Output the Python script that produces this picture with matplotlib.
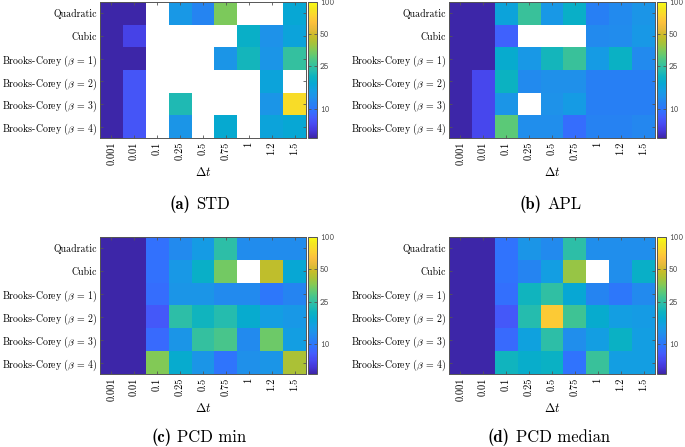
import matplotlib
matplotlib.use("Agg")
import matplotlib.pyplot as plt
import numpy as np
from matplotlib.colors import LinearSegmentedColormap, LogNorm

plt.rcParams['mathtext.fontset'] = 'cm'
plt.rcParams['axes.unicode_minus'] = False

nan = np.nan
dt_labels = ['0.001', '0.01', '0.1', '0.25', '0.5', '0.75', '1', '1.2', '1.5']
models = ['Quadratic', 'Cubic', r'Brooks-Corey ($\beta\,=\,1$)', r'Brooks-Corey ($\beta\,=\,2$)',
          r'Brooks-Corey ($\beta\,=\,3$)', r'Brooks-Corey ($\beta\,=\,4$)']

std = [[5.3, 5.3, nan, 14, 11.5, 35, nan, nan, 17],
       [5.3, 6.8, nan, nan, nan, nan, 19, 13, 16],
       [5.3, 5.3, nan, nan, nan, 13.5, 21, 13.5, 25],
       [5.3, 7.8, nan, nan, nan, nan, nan, 16, nan],
       [5.3, 7.8, nan, 22, nan, nan, nan, 13.5, 80],
       [5.3, 7.8, nan, 13.5, nan, 17.5, nan, 16, 17]]

apl = [[5.3, 5.3, 16, 26, 14, 19, 11, 12, 13.5],
       [5.3, 5.3, 8.5, nan, nan, nan, 12, 12.3, 14],
       [5.3, 5.3, 18, 14, 21, 26, 14.5, 19.5, 12],
       [5.3, 7.0, 20, 12, 12.8, 12.8, 11, 11, 11],
       [5.3, 7.0, 13.5, nan, 13, 14.5, 11, 11, 11],
       [5.3, 7.0, 31, 12.5, 12.5, 9.2, 11.3, 11.3, 11.8]]

pcd_min = [[5.3, 5.3, 9.5, 12, 14.5, 24, 12.3, 12.3, 12.3],
           [5.3, 5.3, 9.5, 14, 19, 34, nan, 46, 17],
           [5.3, 5.3, 9.2, 13.5, 13.5, 12, 12, 10, 11.5],
           [5.3, 5.3, 8, 24, 20.5, 23, 18, 15, 14],
           [5.3, 5.3, 9, 13.5, 25, 28, 12, 33, 15],
           [5.3, 5.3, 36, 18, 13.5, 9.8, 12.8, 13.5, 42]]

pcd_median = [[5.3, 5.3, 9.7, 13.5, 12, 24, 12.5, 12.5, 12.5],
              [5.3, 5.3, 9.8, 11.5, 15, 39, nan, 12.5, 19],
              [5.3, 5.3, 9.3, 20.5, 24.5, 17, 11.5, 10, 12],
              [5.3, 5.3, 8, 23, 70, 27, 18, 15, 14.5],
              [5.3, 5.3, 9, 15.5, 24, 12.5, 15, 19.5, 15],
              [5.3, 5.3, 20.5, 18.5, 19.5, 9.7, 26, 15, 15]]

tags = ['(a)', '(b)', '(c)', '(d)']
names = ['STD', 'APL', 'PCD min', 'PCD median']

# parula-like colormap
parula_pts = [(0.2422, 0.1504, 0.6603), (0.2717, 0.2123, 0.8438), (0.2810, 0.2880, 0.9430),
              (0.2650, 0.3660, 0.9920), (0.1920, 0.4500, 0.9960), (0.1540, 0.5040, 0.9550),
              (0.1230, 0.5700, 0.9200), (0.0780, 0.6200, 0.8900), (0.0240, 0.6600, 0.8300),
              (0.0440, 0.7000, 0.7600), (0.1530, 0.7400, 0.6800), (0.2400, 0.7650, 0.5900),
              (0.3600, 0.7900, 0.4700), (0.5100, 0.7900, 0.3400), (0.6600, 0.7600, 0.2200),
              (0.7800, 0.7400, 0.1600), (0.9000, 0.7300, 0.2300), (0.9900, 0.7500, 0.2400),
              (0.9900, 0.8300, 0.1900), (0.9600, 0.9000, 0.1300), (0.9769, 0.9839, 0.0805)]
parula = LinearSegmentedColormap.from_list('parula', parula_pts, N=256)
parula.set_bad('white')
norm = LogNorm(vmin=5.3, vmax=100)

W, H = 685, 447
fig = plt.figure(figsize=(W / 100, H / 100), dpi=100)

# pixel boxes: (left, right, top, bottom)
boxes = [(100, 306, 2, 138), (449, 655, 2, 138), (100, 306, 237, 374), (449, 655, 237, 374)]
cap_pos = [(200, 204), (551, 204), (199, 437), (549, 437)]
frame_col = '#555555'

caps = []
for k, data in enumerate([std, apl, pcd_min, pcd_median]):
    l, r, t, b = boxes[k]
    ax = fig.add_axes([l / W, 1 - b / H, (r - l) / W, (b - t) / H])
    arr = np.ma.masked_invalid(np.array(data, dtype=float))
    im = ax.imshow(arr, cmap=parula, norm=norm, aspect='auto', interpolation='nearest')
    ax.set_xticks(range(len(dt_labels)))
    ax.set_xticklabels(dt_labels, rotation=90, family='cmr10', fontsize=7.5)
    ax.set_yticks(range(len(models)))
    ax.set_yticklabels(models, family='cmr10', fontsize=7.1)
    ax.tick_params(direction='in', top=True, right=True, length=2.5, width=0.6,
                   color=frame_col, pad=2.5)
    for sp in ax.spines.values():
        sp.set_color(frame_col)
        sp.set_linewidth(0.7)
    ax.set_xlabel(r'$\Delta t$', fontsize=9, labelpad=1)

    cax = fig.add_axes([(r + 2) / W, 1 - b / H, 9 / W, (b - t) / H])
    cb = fig.colorbar(im, cax=cax)
    cb.minorticks_off()
    cb.set_ticks([10, 25, 50, 100])
    cb.set_ticklabels(['10', '25', '50', '100'], family='cmtt10', fontsize=6.5, color='#444444')
    cax.tick_params(direction='in', left=True, right=True, length=2, width=0.6,
                    color=frame_col, pad=2)
    cb.outline.set_edgecolor(frame_col)
    cb.outline.set_linewidth(0.7)

    cx, cy = cap_pos[k]
    t1 = fig.text(cx / W, 1 - cy / H, tags[k], family='cmb10', fontsize=12,
                  ha='left', va='center')
    t2 = fig.text(cx / W, 1 - cy / H, names[k], family='cmr10', fontsize=12,
                  ha='left', va='center')
    caps.append((t1, t2, cx, cy))

# lay out the two-part captions centred on their positions
fig.canvas.draw()
rend = fig.canvas.get_renderer()
gap = 6
for t1, t2, cx, cy in caps:
    w1 = t1.get_window_extent(rend).width
    w2 = t2.get_window_extent(rend).width
    x0 = cx - (w1 + gap + w2) / 2
    t1.set_x(x0 / W)
    t2.set_x((x0 + w1 + gap) / W)

fig.savefig('out.png', dpi=100)
